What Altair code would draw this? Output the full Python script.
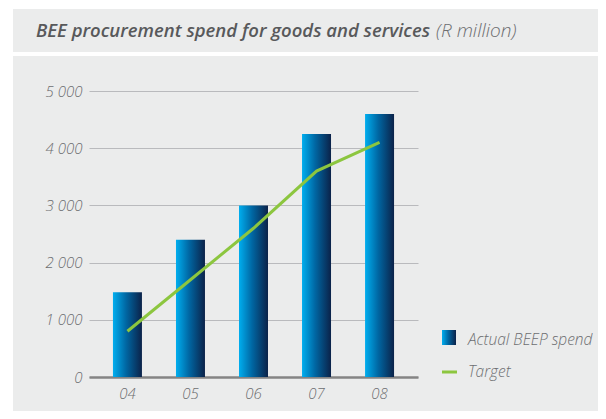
import altair as alt
import pandas as pd

# ---- data ----
years = ["04", "05", "06", "07", "08"]
actual = [1480, 2400, 3000, 4250, 4600]
target = [800, 1700, 2600, 3600, 4100]
y_ticks = [0, 1000, 2000, 3000, 4000, 5000]
legend_labels = ["Actual BEEP spend", "Target"]
title_main = "BEE procurement spend for goods and services"
title_unit = "(R million)"

df = pd.DataFrame({"year": years, "actual": actual, "target": target})
one = pd.DataFrame({"k": [0]})

FONT = "Open Sans"
PANEL = "#ebecec"
TEXT = "#6d6e71"
GREEN = "#8cc63f"

bar_grad = alt.Gradient(
    gradient="linear",
    stops=[
        alt.GradientStop(color="#00aeef", offset=0),
        alt.GradientStop(color="#0067a3", offset=0.45),
        alt.GradientStop(color="#0b2249", offset=1),
    ],
    x1=0, x2=1, y1=0, y2=0,
)

x_enc = alt.X(
    "year:N",
    sort=years,
    title=None,
    scale=alt.Scale(paddingInner=0.54, paddingOuter=0.38),
    axis=alt.Axis(
        labelAngle=0, ticks=False, grid=False,
        domain=True, domainColor="#848484", domainWidth=2.5,
        labelPadding=9,
    ),
)
y_scale = alt.Scale(domain=[0, 5000], nice=False)

bars = alt.Chart(df).mark_bar(color=bar_grad).encode(
    x=x_enc,
    y=alt.Y(
        "actual:Q",
        scale=y_scale,
        title=None,
        axis=alt.Axis(
            values=y_ticks, domain=False, ticks=False, grid=True,
            gridColor="#b9babd", gridWidth=1.2, labelPadding=7,
            labelExpr="replace(format(datum.value, ','), ',', ' ')",
        ),
    ),
)

line = alt.Chart(df).mark_line(color=GREEN, strokeWidth=3).encode(
    x=alt.X("year:N", sort=years),
    y=alt.Y("target:Q", scale=y_scale),
)

# decorative white separators (page background between panels)
gap = alt.Chart(one).mark_rect(color="white").encode(
    x=alt.value(-81), x2=alt.value(509), y=alt.value(-39), y2=alt.value(-35))
left_strip = alt.Chart(one).mark_rect(color="white").encode(
    x=alt.value(-81), x2=alt.value(-76), y=alt.value(-83), y2=alt.value(320))
top_strip = alt.Chart(one).mark_rect(color="white").encode(
    x=alt.value(-81), x2=alt.value(509), y=alt.value(-83), y2=alt.value(-82))

t1 = alt.Chart(one).mark_text(
    text=title_main, align="left", baseline="alphabetic", font=FONT,
    fontStyle="italic", fontWeight=600, fontSize=18.5, color="#58595b",
).encode(x=alt.value(-53), y=alt.value(-54))
t2 = alt.Chart(one).mark_text(
    text=title_unit, align="left", baseline="alphabetic", font=FONT,
    fontStyle="italic", fontWeight=300, fontSize=19, color=TEXT,
).encode(x=alt.value(347), y=alt.value(-54))

leg_sw1 = alt.Chart(one).mark_rect(color=bar_grad).encode(
    x=alt.value(353), x2=alt.value(367), y=alt.value(239), y2=alt.value(254))
leg_sw2 = alt.Chart(one).mark_rule(color=GREEN, strokeWidth=3).encode(
    x=alt.value(353), x2=alt.value(368), y=alt.value(281))
leg_t1 = alt.Chart(one).mark_text(
    text=legend_labels[0], align="left", baseline="alphabetic", font=FONT,
    fontStyle="italic", fontWeight=300, fontSize=15.5, color=TEXT,
).encode(x=alt.value(379), y=alt.value(254))
leg_t2 = alt.Chart(one).mark_text(
    text=legend_labels[1], align="left", baseline="alphabetic", font=FONT,
    fontStyle="italic", fontWeight=300, fontSize=15.5, color=TEXT,
).encode(x=alt.value(379), y=alt.value(286))

chart = alt.layer(
    gap, left_strip, top_strip, bars, line, t1, t2, leg_sw1, leg_sw2, leg_t1, leg_t2
).properties(
    width=329,
    height=286,
    autosize=alt.AutoSizeParams(type="none"),
    padding={"left": 81, "top": 83, "right": 180, "bottom": 34},
    background=PANEL,
).configure_view(
    strokeWidth=0,
).configure_axis(
    labelFont=FONT, labelFontStyle="italic", labelFontWeight=300,
    labelFontSize=15, labelColor=TEXT,
)

chart.save("out.html", embed_options={"renderer": "svg", "actions": False})
